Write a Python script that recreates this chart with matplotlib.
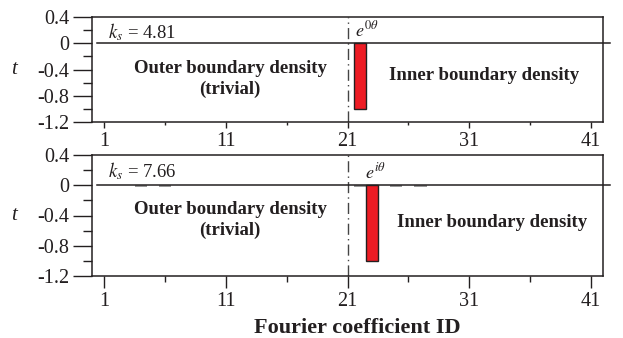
import numpy as np
import matplotlib
matplotlib.use("Agg")
import matplotlib.pyplot as plt
from matplotlib.ticker import FixedLocator

plt.rcParams['font.family'] = ['Liberation Serif', 'DejaVu Serif']
plt.rcParams['mathtext.fontset'] = 'stix'

# ---- data ----
xticks = [1, 11, 21, 31, 41]
xtick_labels = ['1', '11', '21', '31', '41']
yticks = [0.4, 0.0, -0.4, -0.8, -1.2]
ytick_labels = ['0.4', '0', '-0.4', '-0.8', '-1.2']

top_ids = [22]
top_vals = [-1.0]
top_ks = 4.81
top_mode = r'$e^{0\theta}$'

bot_ids = [23]
bot_vals = [-1.0]
bot_small_ids = [4, 6, 22, 25, 27]
bot_small_vals = [-0.02, -0.02, -0.02, -0.02, -0.02]
bot_ks = 7.66
bot_mode = r'$e^{i\theta}$'

TXT = '#231f20'
RED = '#ed1c24'

fig = plt.figure(figsize=(6.23, 3.38), dpi=100)
W, H = 623, 338
def pos(l, t, r, b):
    return [l / W, 1 - b / H, (r - l) / W, (b - t) / H]

ax1 = fig.add_axes(pos(92, 17, 603, 122))
ax2 = fig.add_axes(pos(92, 155, 603, 276))

def style(ax, xmaj, xmin, xpad):
    ax.set_xlim(0, 42)
    ax.set_ylim(-1.2, 0.4)
    for s in ax.spines.values():
        s.set_linewidth(1.1)
        s.set_color(TXT)
    ax.set_xticks(xticks)
    ax.set_xticklabels(xtick_labels)
    ax.xaxis.set_minor_locator(FixedLocator([6, 16, 26, 36]))
    ax.set_yticks(yticks)
    ax.set_yticklabels(ytick_labels)
    ax.yaxis.set_minor_locator(FixedLocator([0.2, -0.2, -0.6, -1.0]))
    ax.tick_params(axis='y', which='major', length=13.5, width=1.0, direction='out',
                   labelsize=14.5, colors=TXT, pad=3)
    ax.tick_params(axis='y', which='minor', length=6.5, width=1.0, direction='out', colors=TXT)
    ax.tick_params(axis='x', which='major', length=xmaj, width=1.0, direction='out',
                   labelsize=14.5, colors=TXT, pad=xpad)
    ax.tick_params(axis='x', which='minor', length=xmin, width=1.0, direction='out', colors=TXT)
    ax.set_ylabel('t', rotation=0, fontsize=15, style='italic', color=TXT, va='center', ha='center')
    ax.yaxis.set_label_coords(-0.152, 0.5)
    # zero line extending beyond right frame
    ax.plot([0.4, 42.6], [0, 0], color=TXT, lw=1.1, clip_on=False, zorder=3)
    ax.axvline(21, color='#444444', lw=1.0, dashes=(8, 3, 1, 3), zorder=1)

style(ax1, 4.0, 2.2, 3.5)
style(ax2, 8.6, 4.0, 3.0)

ax1.bar(top_ids, top_vals, width=1.0, color=RED, edgecolor=TXT, linewidth=1.0, zorder=4)
ax2.bar(bot_small_ids, bot_small_vals, width=1.0, color='#999999', linewidth=0, zorder=2)
ax2.bar(bot_ids, bot_vals, width=1.0, color=RED, edgecolor=TXT, linewidth=1.0, zorder=4)

ax1.text(1.3, 0.17, r'$k_s$' + f' = {top_ks:.2f}', fontsize=13.5, color=TXT, va='center', ha='left')
ax2.text(1.3, 0.18, r'$k_s$' + f' = {bot_ks:.2f}', fontsize=13.5, color=TXT, va='center', ha='left')

ax1.text(21.6, 0.04, top_mode, fontsize=13, color=TXT, ha='left', va='bottom')
ax2.text(22.4, 0.04, bot_mode, fontsize=13, color=TXT, ha='left', va='bottom')

ax1.text(11.35, -0.54, 'Outer boundary density\n(trivial)', fontsize=13.5, fontweight='bold',
         ha='center', va='center', color=TXT, linespacing=1.3)
ax2.text(11.35, -0.46, 'Outer boundary density\n(trivial)', fontsize=13.5, fontweight='bold',
         ha='center', va='center', color=TXT, linespacing=1.3)
ax1.text(32.25, -0.49, 'Inner boundary density', fontsize=13.5, fontweight='bold',
         ha='center', va='center', color=TXT)
ax2.text(32.9, -0.49, 'Inner boundary density', fontsize=13.5, fontweight='bold',
         ha='center', va='center', color=TXT)

ax2.set_xlabel('Fourier coefficient ID', fontsize=16, fontweight='bold', color=TXT)
ax2.xaxis.set_label_coords(0.52, -0.43)
ax2.xaxis.label.set_va('center')

fig.savefig('out.png', dpi=100)
